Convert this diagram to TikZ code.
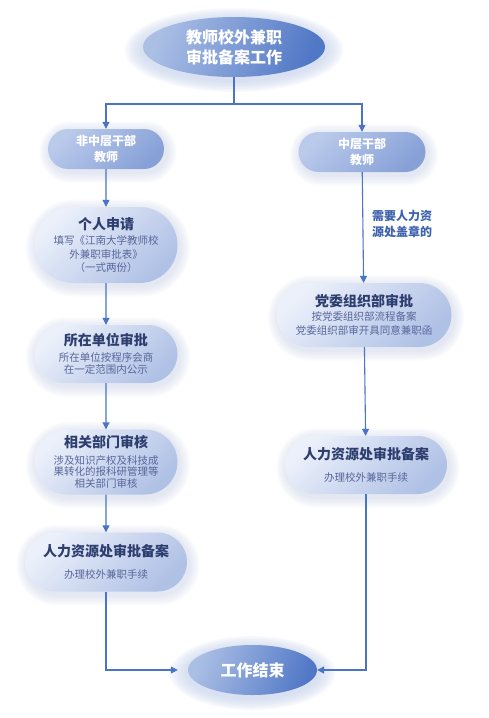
\documentclass[tikz,border=0pt]{standalone}
\usepackage{fontspec}
\setmainfont{Noto Sans CJK SC}
\usetikzlibrary{shapes.misc,shapes.geometric,arrows.meta}
\definecolor{lineblue}{HTML}{4A74C4}
\definecolor{navy}{HTML}{2E3E6E}
\definecolor{subtext}{HTML}{58669A}
\definecolor{lblue}{HTML}{3E62AE}
\definecolor{boxlight}{HTML}{EBF0FA}
\definecolor{boxdark}{HTML}{B0C1E6}
\definecolor{hdlight}{HTML}{BACAEB}
\definecolor{hddark}{HTML}{87A1D7}
\definecolor{ellight}{HTML}{ABBFE5}
\definecolor{eldark}{HTML}{5178C6}
\definecolor{haloc}{HTML}{C9D5EE}
\definecolor{glowc}{HTML}{C3CDE6}
\newcommand{\boxglow}[4]{%
  \foreach \k in {1,...,7}{%
    \pgfmathsetmacro{\rr}{(#4)/2+\k*1.5-0.3}%
    \fill[glowc, opacity=0.07, rounded corners=\rr pt]
      ({#1-(#3)/2-\k*1.5+2},{#2-(#4)/2-\k*1.5+3}) rectangle
      ({#1+(#3)/2+\k*1.5+2},{#2+(#4)/2+\k*1.5+3});
  }}
\newcommand{\ellhalo}[4]{%
  \foreach \k in {1,...,8}{%
    \fill[haloc, opacity=0.13] (#1,#2+3) ellipse [x radius={#3+\k*2.3}, y radius={#4+\k*1.5}];
  }}
\begin{document}
\begin{tikzpicture}[x=1pt,y=-1pt,
  line/.style={draw=lineblue, line width=1.1pt},
  conn/.style={line, -{Triangle[length=7pt,width=7pt]}},
  ellnode/.style={ellipse, inner sep=0pt, top color=ellight, bottom color=eldark,
    shading angle=70, text=white, align=center,
    font=\fontsize{16}{20}\selectfont\bfseries},
  hdbox/.style={rounded rectangle, inner sep=0pt, minimum height=40pt,
    top color=hdlight, bottom color=hddark, shading angle=45, text=white,
    align=center, font=\fontsize{12}{16}\selectfont\bfseries},
  pbox/.style={rounded rectangle, inner sep=0pt, top color=boxlight,
    bottom color=boxdark, shading angle=45, align=center, text=subtext},
  ttl/.style={font=\fontsize{14}{17}\selectfont\bfseries, text=navy},
]
\useasboundingbox (0,0) rectangle (488,718);
\fill[white] (0,0) rectangle (488,718);

% halos and glows
\ellhalo{234}{47}{91}{30}
\ellhalo{252.5}{670}{64.5}{25}
\boxglow{106}{149}{116}{40}
\boxglow{362}{152}{127}{40}
\boxglow{106}{245}{143}{76}
\boxglow{106}{354}{143}{58}
\boxglow{106}{462}{143}{65}
\boxglow{106}{562}{162}{59}
\boxglow{364}{315}{175}{64}
\boxglow{366}{465}{162}{58}

% nodes
\node[ellnode, minimum width=182pt, minimum height=60pt] (top) at (234,47)
  {教师校外兼职\\审批备案工作};
\node[hdbox, minimum width=116pt] (hd1) at (106,149) {非中层干部\\教师};
\node[hdbox, minimum width=127pt] (hd2) at (362,152) {中层干部\\教师};

\node[pbox, minimum width=143pt, minimum height=76pt,
  font=\fontsize{10.5}{13.3}\selectfont] (p1) at (106,245)
  {{\fontsize{14}{17}\selectfont\bfseries\color{navy}个人申请}\\[1.7pt]
   填写《江南大学教师校\\外兼职审批表》\\（一式两份）};
\node[pbox, minimum width=143pt, minimum height=58pt,
  font=\fontsize{10.5}{12}\selectfont] (p2) at (106,354)
  {{\fontsize{14}{17}\selectfont\bfseries\color{navy}所在单位审批}\\[4.5pt]
   所在单位按程序会商\\在一定范围内公示};
\node[pbox, minimum width=143pt, minimum height=65pt,
  font=\fontsize{10.5}{11.6}\selectfont] (p3) at (106,462)
  {{\fontsize{14}{17}\selectfont\bfseries\color{navy}相关部门审核}\\[5pt]
   涉及知识产权及科技成\\果转化的报科研管理等\\相关部门审核};
\node[pbox, minimum width=162pt, minimum height=59pt,
  font=\fontsize{10.5}{12}\selectfont] (p4) at (106,562)
  {{\fontsize{14}{17}\selectfont\bfseries\color{navy}人力资源处审批备案}\\[10pt]
   办理校外兼职手续};
\node[pbox, minimum width=175pt, minimum height=64pt,
  font=\fontsize{10.5}{13.5}\selectfont] (r1) at (364,315)
  {{\fontsize{14}{17}\selectfont\bfseries\color{navy}党委组织部审批}\\[0.5pt]
   按党委组织部流程备案\\党委组织部审开具同意兼职函};
\node[pbox, minimum width=162pt, minimum height=58pt,
  font=\fontsize{10.5}{12}\selectfont] (r2) at (366,465)
  {{\fontsize{14}{17}\selectfont\bfseries\color{navy}人力资源处审批备案}\\[10pt]
   办理校外兼职手续};
\node[ellnode, minimum width=129pt, minimum height=50pt] (end) at (252.5,670)
  {工作结束};

\node[align=left, text=lblue, font=\fontsize{12}{15.5}\selectfont\bfseries]
  (lab) at (402,224) {需要人力资\\源处盖章的};

% connectors
\coordinate (split) at (234,104);
\draw[line] (top.south) -- (split);
\draw[conn] (split) -| (hd1.north);
\draw[conn] (split) -| (hd2.north);
\draw[conn] (hd1) -- (p1);
\draw[conn] (p1) -- (p2);
\draw[conn] (p2) -- (p3);
\draw[conn] (p3) -- (p4);
\draw[conn] (hd2) -- (r1);
\draw[conn] (r1) -- (r2);
\draw[conn] (p4.south) |- ([xshift=-10pt]end.west);
\draw[conn] (r2.south) |- (end.east);
\end{tikzpicture}
\end{document}
